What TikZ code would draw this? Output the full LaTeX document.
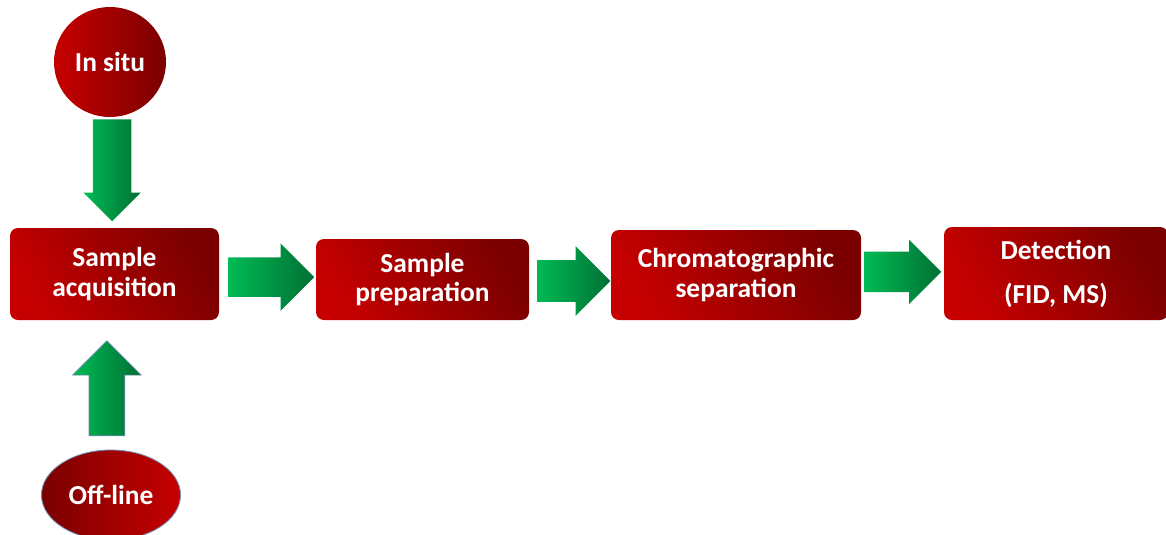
\documentclass[tikz,border=0pt]{standalone}
\usepackage{fontspec}
\setmainfont{Carlito}
\usetikzlibrary{shapes.geometric,shapes.arrows,positioning}

\definecolor{boxred}{RGB}{198,0,0}
\definecolor{boxdark}{RGB}{122,0,0}
\definecolor{arrgreen}{RGB}{0,186,84}
\definecolor{arrdark}{RGB}{0,112,52}
\definecolor{rimblue}{RGB}{110,140,180}

\begin{document}
\begin{tikzpicture}
	\tikzstyle{block} = [
		rectangle,
		rounded corners=0.2cm,
		top color=boxdark,
		bottom color=boxred,
		shading angle=-60,
		text=white,
		font=\bfseries\fontsize{19.5}{21.3}\selectfont,
		align=center,
		inner sep=0pt
	]
	\tikzstyle{source} = [
		ellipse,
		inner sep=0pt,
		text=white,
		font=\bfseries\fontsize{19.5}{21.3}\selectfont
	]
	\tikzstyle{fat} = [
		single arrow,
		inner xsep=0pt,
		minimum width=0pt,
		left color=arrgreen,
		right color=arrdark
	]

	\useasboundingbox (0,0) rectangle (29.15,-13.35);

	\node (insitu) [style=source, left color=boxred, right color=boxdark, minimum width=2.8cm, minimum height=2.75cm] at (2.75,-1.55) {In situ};
	\node (offline) [style=source, draw=rimblue, line width=0.6pt, left color=boxdark, right color=boxred, minimum width=3.475cm, minimum height=2.25cm] at (2.775,-12.375) {Off-line};

	\node (acq) [style=block, minimum width=5.225cm, minimum height=2.3cm] at (2.8625,-6.85) {Sample\\acquisition};
	\node (prep) [style=block, minimum width=5.325cm, minimum height=2.025cm] at (10.5625,-6.9875) {Sample\\preparation};
	\node (chrom) [style=block, minimum width=6.25cm, minimum height=2.25cm] at (18.4,-6.875) {Chromatographic\\separation};
	\node (det) [style=block, minimum width=5.6cm, minimum height=2.325cm] at (26.4,-6.8375) {Detection\\[10pt](FID, MS)};

	\node (down) [style=fat, rotate=-90, anchor=tip, minimum height=2.55cm, inner ysep=0.475cm, single arrow head extend=0.2375cm] at ([xshift=-0.06cm,yshift=0.15cm]acq.north) {};
	\node (up) [style=fat, draw=rimblue, line width=0.5pt, rotate=90, anchor=tip, minimum height=2.375cm, inner ysep=0.4375cm, single arrow head extend=0.4125cm] at ([xshift=-0.19cm,yshift=-0.5cm]acq.south) {};
	\node (step1) [style=fat, anchor=tip, minimum height=2.15cm, inner ysep=0.4875cm, single arrow head extend=0.35cm] at ([xshift=-0.025cm,yshift=0.06cm]prep.west) {};
	\node (step2) [style=fat, anchor=tip, minimum height=1.825cm, inner ysep=0.5125cm, single arrow head extend=0.35cm] at ([yshift=-0.15cm]chrom.west) {};
	\node (step3) [style=fat, anchor=tip, minimum height=1.925cm, inner ysep=0.5cm, single arrow head extend=0.3cm] at ([xshift=-0.05cm,yshift=0.04cm]det.west) {};

\end{tikzpicture}
\end{document}
